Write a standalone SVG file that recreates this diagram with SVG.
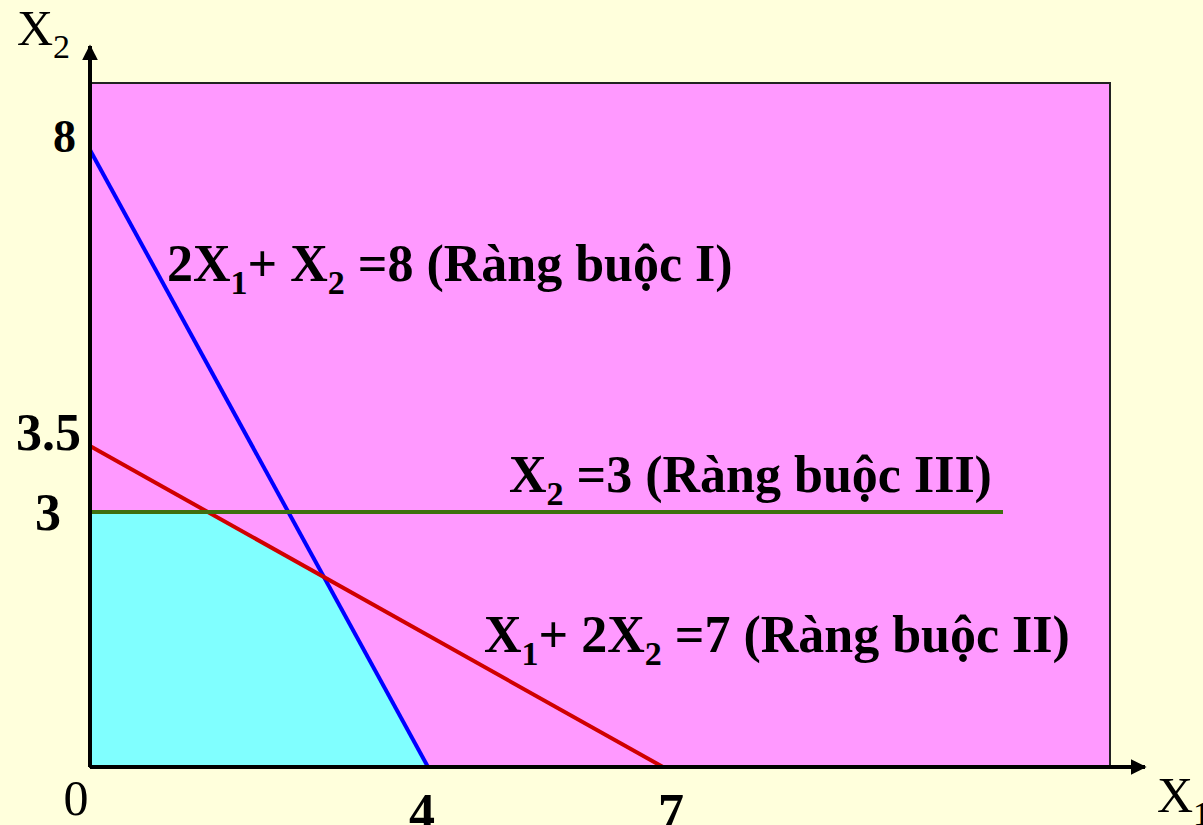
<svg xmlns="http://www.w3.org/2000/svg" width="1203" height="825" viewBox="0 0 1203 825">
<style>
.t{font-family:"Liberation Serif","Times New Roman",serif;font-weight:bold;font-size:52px;fill:#000}
.r{font-family:"Liberation Serif","Times New Roman",serif;font-weight:normal;font-size:50px;fill:#000}
.sub{font-size:34px}
.ln{stroke-width:4;fill:none;stroke-linecap:butt}
</style>
<defs>
<marker id="ah" viewBox="0 0 10 10" refX="9" refY="5" markerWidth="4" markerHeight="4" markerUnits="strokeWidth" orient="auto">
<path d="M0,0 L10,5 L0,10 Z" fill="#000"/>
</marker>
</defs>
<rect x="0" y="0" width="1203" height="825" fill="#FFFFDC"/>
<g id="region-pink">
<rect x="90" y="83" width="1020" height="684" fill="#FF99FF" stroke="#222" stroke-width="2"/>
</g>
<g id="region-feasible">
<polygon points="90,512 208,512 324,577 428,767 90,767" fill="#80FFFF"/>
</g>
<g id="connectors">
<line class="ln" x1="90" y1="150" x2="428" y2="767" stroke="#0000FF"/>
<line class="ln" x1="90" y1="446" x2="663" y2="767" stroke="#D00000"/>
<line class="ln" x1="90" y1="512" x2="1003" y2="512" stroke="#3F6F10" stroke-width="5"/>
<line x1="90" y1="767" x2="90" y2="46" stroke="#000" stroke-width="4" marker-end="url(#ah)"/>
<line x1="90" y1="767" x2="1145" y2="767" stroke="#000" stroke-width="4" marker-end="url(#ah)"/>
</g>
<g id="axis-labels">
<text class="r" x="17" y="45">X<tspan class="sub" dy="13">2</tspan></text>
<text class="r" x="1157" y="812">X<tspan class="sub" dy="13">1</tspan></text>
<text class="r" x="76" y="815" text-anchor="middle">0</text>
<text class="t" x="422" y="830" text-anchor="middle">4</text>
<text class="t" x="671" y="830" text-anchor="middle">7</text>
<text class="t" x="76" y="152" text-anchor="end" style="font-size:46px">8</text>
<text class="t" x="81" y="450" text-anchor="end">3.5</text>
<text class="t" x="48" y="530" text-anchor="middle">3</text>
</g>
<g id="label-I">
<text class="t" x="167" y="281">2X<tspan class="sub" dy="13">1</tspan><tspan dy="-13">+ X</tspan><tspan class="sub" dy="13">2</tspan><tspan dy="-13"> =8 (Ràng buộc I)</tspan></text>
</g>
<g id="label-II">
<text class="t" x="484" y="652">X<tspan class="sub" dy="13">1</tspan><tspan dy="-13">+ 2X</tspan><tspan class="sub" dy="13">2</tspan><tspan dy="-13"> =7 (Ràng buộc II)</tspan></text>
</g>
<g id="label-III">
<text class="t" x="509" y="492">X<tspan class="sub" dy="13">2</tspan><tspan dy="-13"> =3 (Ràng buộc III)</tspan></text>
</g>
</svg>
